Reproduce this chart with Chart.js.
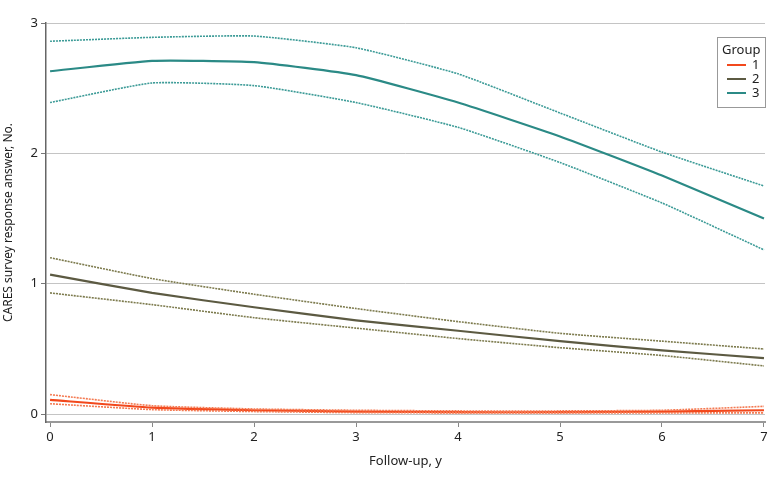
<!DOCTYPE html>
<html>
<head>
<meta charset="utf-8">
<script src="https://cdn.jsdelivr.net/npm/chart.js@4/dist/chart.umd.min.js"></script>
<style>
  html, body { margin: 0; padding: 0; background: #fff; }
  #wrap { width: 780px; height: 485px; }
</style>
</head>
<body>
<div id="wrap"><canvas id="chart" width="780" height="485"></canvas></div>
<script>
// follow-up years
const years = [0, 1, 2, 3, 4, 5, 6, 7];
const yTicks = [0, 1, 2, 3];
const groupNames = ["1", "2", "3"];

// group 1
const g1Mean  = [0.11, 0.05, 0.03, 0.02, 0.015, 0.015, 0.02, 0.03];
const g1Upper = [0.15, 0.065, 0.04, 0.03, 0.025, 0.025, 0.03, 0.06];
const g1Lower = [0.08, 0.035, 0.02, 0.012, 0.01, 0.01, 0.01, 0.01];

// group 2
const g2Mean  = [1.07, 0.93, 0.82, 0.72, 0.64, 0.56, 0.49, 0.43];
const g2Upper = [1.20, 1.04, 0.92, 0.81, 0.71, 0.62, 0.56, 0.50];
const g2Lower = [0.93, 0.84, 0.74, 0.66, 0.58, 0.51, 0.45, 0.37];

// group 3
const g3Mean  = [2.63, 2.71, 2.70, 2.60, 2.39, 2.13, 1.83, 1.50];
const g3Upper = [2.86, 2.89, 2.90, 2.81, 2.61, 2.31, 2.01, 1.75];
const g3Lower = [2.39, 2.54, 2.52, 2.39, 2.20, 1.93, 1.62, 1.26];

const colors = {
  g1: "#f2481c", g1ci: "#f47a52",
  g2: "#5c5a42", g2ci: "#7d7b4e",
  g3: "#2b8a86", g3ci: "#3c9b97"
};

const pts = arr => arr.map((v, i) => ({ x: years[i], y: v }));

function line(label, data, color, dotted) {
  return {
    label: label,
    data: pts(data),
    borderColor: color,
    backgroundColor: color,
    borderWidth: dotted ? 1.6 : 2.2,
    borderDash: dotted ? [2, 1] : [],
    pointRadius: 0,
    tension: 0.15,
    fill: false
  };
}

// legend box drawn inside the plot, like the original
const groupLegend = {
  id: "groupLegend",
  afterDraw(chart) {
    const ctx = chart.ctx;
    const x = 717, y = 37, w = 48, h = 70;
    ctx.save();
    ctx.fillStyle = "#fff";
    ctx.fillRect(x, y, w, h);
    ctx.strokeStyle = "#999";
    ctx.lineWidth = 1;
    ctx.strokeRect(x + 0.5, y + 0.5, w, h);
    ctx.fillStyle = "#222";
    ctx.font = "13px 'Noto Sans'";
    ctx.textBaseline = "middle";
    ctx.textAlign = "left";
    ctx.fillText("Group", x + 5, y + 13);
    const cols = [colors.g1, colors.g2, colors.g3];
    groupNames.forEach((name, i) => {
      const ly = y + 28 + i * 14;
      ctx.strokeStyle = cols[i];
      ctx.lineWidth = 2;
      ctx.beginPath();
      ctx.moveTo(x + 10, ly);
      ctx.lineTo(x + 29, ly);
      ctx.stroke();
      ctx.fillStyle = "#222";
      ctx.fillText(name, x + 35, ly);
    });
    ctx.restore();
  }
};

new Chart(document.getElementById("chart"), {
  type: "line",
  data: {
    datasets: [
      line("3 upper", g3Upper, colors.g3ci, true),
      line("3 lower", g3Lower, colors.g3ci, true),
      line("3", g3Mean, colors.g3, false),
      line("2 upper", g2Upper, colors.g2ci, true),
      line("2 lower", g2Lower, colors.g2ci, true),
      line("2", g2Mean, colors.g2, false),
      line("1 upper", g1Upper, colors.g1ci, true),
      line("1 lower", g1Lower, colors.g1ci, true),
      line("1", g1Mean, colors.g1, false)
    ]
  },
  options: {
    responsive: false,
    animation: false,
    layout: { padding: { top: 23, right: 15, left: 0, bottom: 0 } },
    plugins: {
      legend: { display: false },
      tooltip: { enabled: false }
    },
    scales: {
      x: {
        type: "linear",
        min: -0.04,
        max: 7.01,
        afterBuildTicks: s => { s.ticks = years.map(v => ({ value: v })); },
        afterFit: s => { s.height = 63; },
        grid: { drawOnChartArea: false, tickLength: 5, tickColor: "#888" },
        border: { color: "#999", width: 2 },
        ticks: { color: "#222", font: { family: "Noto Sans", size: 13 }, padding: 2, maxRotation: 0 },
        title: {
          display: true,
          text: "Follow-up, y",
          color: "#222",
          font: { family: "Noto Sans", size: 13 },
          padding: { top: 4, bottom: 16 }
        }
      },
      y: {
        min: -0.06,
        max: 3,
        afterBuildTicks: s => { s.ticks = yTicks.map(v => ({ value: v })); },
        afterFit: s => { s.width = 46; },
        grid: { color: "#c4c4c4", lineWidth: 1, tickLength: 5, tickColor: "#777" },
        border: { color: "#666", width: 1.5 },
        ticks: { color: "#222", font: { family: "Noto Sans", size: 13 }, padding: 3 },
        title: {
          display: true,
          text: "CARES survey response answer, No.",
          color: "#222",
          font: { family: "Noto Sans", size: 12 },
          padding: { top: 1, bottom: 2 }
        }
      }
    }
  },
  plugins: [groupLegend]
});
</script>
</body>
</html>
